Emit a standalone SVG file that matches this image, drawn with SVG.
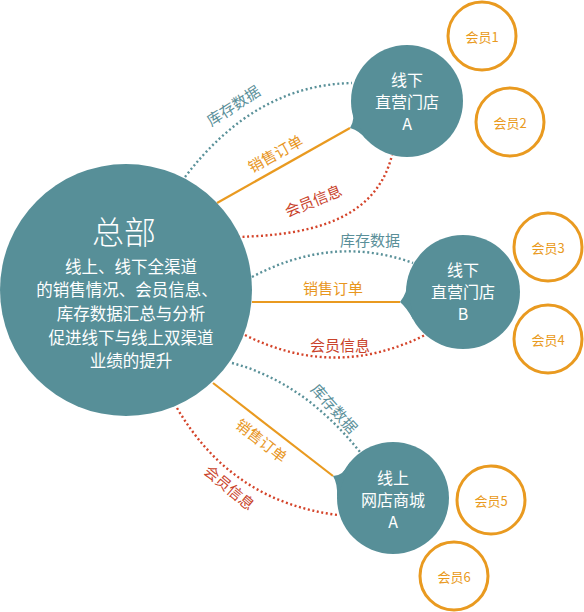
<svg xmlns="http://www.w3.org/2000/svg" width="584" height="612" viewBox="0 0 584 612">
<style>
text{font-family:"Noto Sans CJK SC","Noto Sans",sans-serif;text-anchor:middle;dominant-baseline:central}
.node{fill:#578f98}
.nt{fill:#ffffff;font-size:16px}
.mem{fill:#ffffff;stroke:#e99a20;stroke-width:3}
.mt{fill:#e99a20;font-size:13px}
.inv{fill:none;stroke:#5a9199;stroke-width:2.4;stroke-dasharray:2 2.6}
.ord{fill:none;stroke:#e99a20;stroke-width:2.2}
.vip{fill:none;stroke:#d4442a;stroke-width:2.4;stroke-dasharray:2 2.6}
.li{fill:#5a8f99;font-size:15px}
.lo{fill:#e8961e;font-size:15px}
.lv{fill:#c9432b;font-size:15px}
</style>
<rect width="584" height="612" fill="#ffffff"/>
<g id="connectors">
<path class="inv" d="M185,177 Q255,85 352,83"/>
<path class="ord" d="M217,203 L350,128"/>
<path class="vip" d="M238,237 C300,235 375,225 392,155"/>
<path class="inv" d="M252,277 Q333,234 413,263"/>
<path class="ord" d="M252,302 L400,302"/>
<path class="vip" d="M245,335 Q335,380 425,335"/>
<path class="inv" d="M232,363 Q304,382 360,452"/>
<path class="ord" d="M213,383 L333,476"/>
<path class="vip" d="M177,408 Q232,502 338,515"/>
<text class="li" x="233" y="105" transform="rotate(-33 233 105)">库存数据</text>
<text class="lo" x="275" y="153" transform="rotate(-29 275 153)">销售订单</text>
<text class="lv" x="313" y="200" transform="rotate(-22 313 200)">会员信息</text>
<text class="li" x="370" y="239">库存数据</text>
<text class="lo" x="333" y="287">销售订单</text>
<text class="lv" x="340" y="344">会员信息</text>
<text class="li" x="335" y="408" transform="rotate(48 335 408)">库存数据</text>
<text class="lo" x="262" y="440" transform="rotate(38 262 440)">销售订单</text>
<text class="lv" x="230" y="487" transform="rotate(40 230 487)">会员信息</text>
</g>
<g id="hq">
<circle class="node" cx="126" cy="290" r="126"/>
<text x="124" y="230" fill="#ffffff" font-size="32" font-weight="300">总部</text>
<text x="131" y="266" fill="#ffffff" font-size="16.5">线上、线下全渠道</text>
<text x="127" y="289" fill="#ffffff" font-size="16.5">的销售情况、会员信息、</text>
<text x="131" y="313" fill="#ffffff" font-size="16.5">库存数据汇总与分析</text>
<text x="131" y="337" fill="#ffffff" font-size="16.5">促进线下与线上双渠道</text>
<text x="131" y="360" fill="#ffffff" font-size="16.5">业绩的提升</text>
</g>
<g id="storeA">
<circle class="node" cx="407" cy="101" r="56"/>
<path class="node" d="M366.2,139.4 Q360,131 350,128 Q356,118 351.4,108.1 Z"/>
<text class="nt" x="407" y="79">线下</text>
<text class="nt" x="407" y="101">直营门店</text>
<text class="nt" x="407" y="123">A</text>
</g>
<g id="storeB">
<circle class="node" cx="463" cy="292" r="57"/>
<path class="node" d="M413.1,319.6 Q407,308 400,302 Q408,292 407.1,281.1 Z"/>
<text class="nt" x="463" y="269">线下</text>
<text class="nt" x="463" y="291">直营门店</text>
<text class="nt" x="463" y="313">B</text>
</g>
<g id="shopA">
<circle class="node" cx="393" cy="498" r="56"/>
<path class="node" d="M337,497.9 Q338,484 333,476 Q343,476 350.2,461.9 Z"/>
<text class="nt" x="393" y="477">线上</text>
<text class="nt" x="393" y="499">网店商城</text>
<text class="nt" x="393" y="521">A</text>
</g>
<g id="m1"><circle class="mem" cx="482" cy="36" r="34"/><text class="mt" x="482" y="36">会员1</text></g>
<g id="m2"><circle class="mem" cx="510" cy="122" r="34"/><text class="mt" x="510" y="122">会员2</text></g>
<g id="m3"><circle class="mem" cx="548" cy="247" r="34"/><text class="mt" x="548" y="247">会员3</text></g>
<g id="m4"><circle class="mem" cx="548" cy="339" r="34"/><text class="mt" x="548" y="339">会员4</text></g>
<g id="m5"><circle class="mem" cx="491" cy="500" r="34"/><text class="mt" x="491" y="500">会员5</text></g>
<g id="m6"><circle class="mem" cx="454" cy="576" r="34"/><text class="mt" x="454" y="576">会员6</text></g>
</svg>
